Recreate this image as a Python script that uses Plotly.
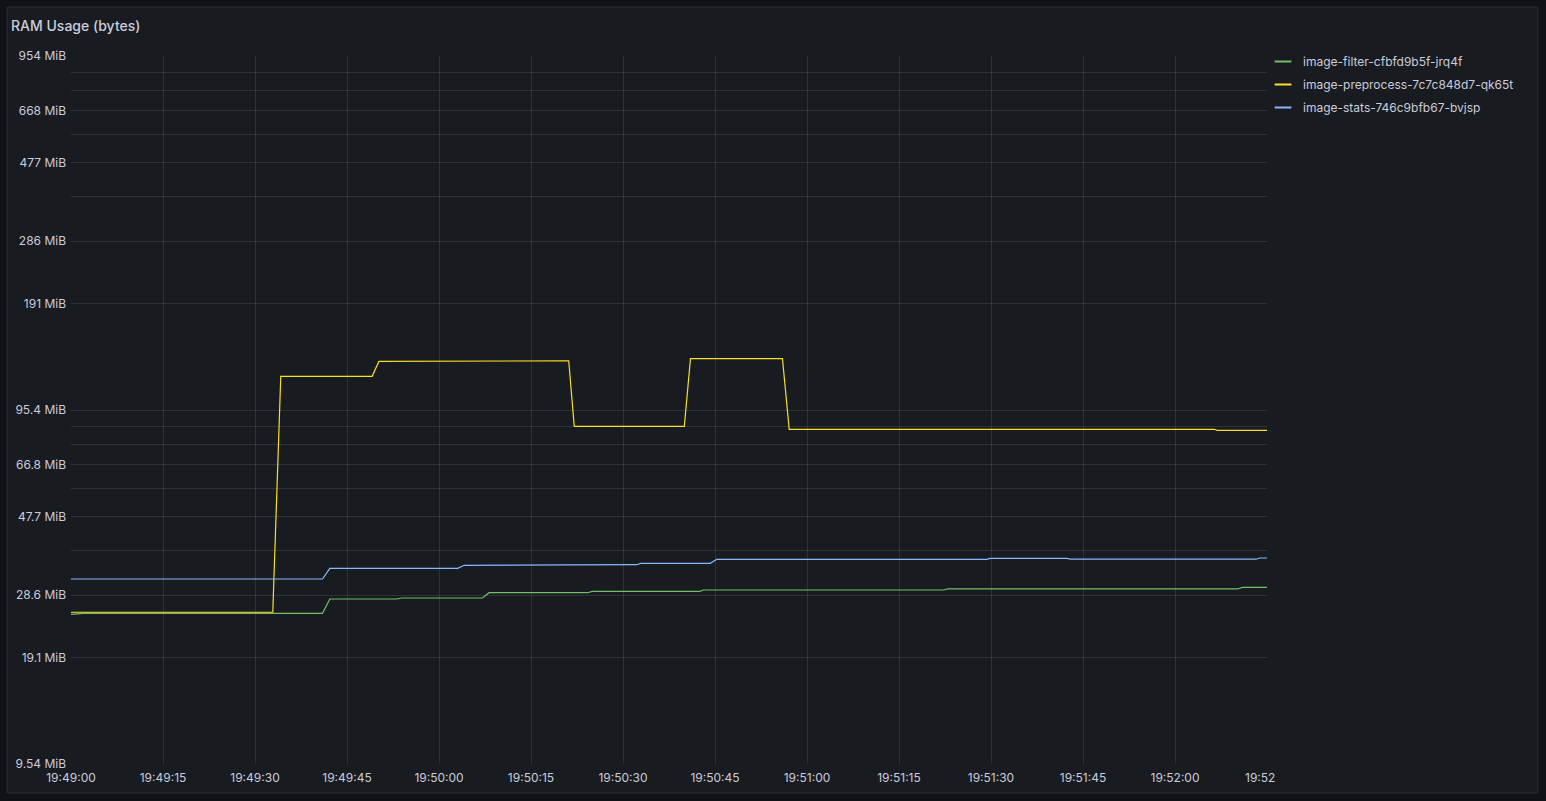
import plotly.graph_objects as go
import pandas as pd

BASE = pd.Timestamp("2024-01-01 19:49:00")

# ---- data (seconds after 19:49:00, bytes) ----
filter_t = [0, 2.0, 41.0, 42.2, 53.1, 53.9, 67.1, 68.15, 84.2, 85.0, 102.55, 103.1, 142.2, 143.0, 190.2, 191.0, 195]
filter_v = [26.48e6, 26.65e6, 26.65e6, 29.25e6, 29.25e6, 29.44e6, 29.44e6, 30.47e6, 30.47e6, 30.75e6,
            30.75e6, 31.01e6, 31.01e6, 31.22e6, 31.22e6, 31.56e6, 31.56e6]

pre_t = [0, 32.9, 34.2, 49.1, 50.2, 64.0, 64.6, 81.15, 82.05, 100.0, 101.0, 116.0, 117.1, 186.35, 186.9, 195]
pre_v = [26.83e6, 26.83e6, 124.5e6, 124.5e6, 137.2e6, 137.2e6, 137.7e6, 137.7e6, 89.9e6, 89.9e6,
         139.6e6, 139.6e6, 88.2e6, 88.2e6, 87.6e6, 87.6e6]

stats_t = [0, 41.0, 42.2, 63.05, 64.1, 78.4, 79.2, 92.2, 92.9, 104.2, 105.3, 149.3, 149.85, 162.35, 163.0, 193.2, 193.85, 195]
stats_v = [33.31e6, 33.31e6, 35.71e6, 35.71e6, 36.42e6, 36.42e6, 36.56e6, 36.56e6, 36.89e6, 36.89e6,
           37.86e6, 37.86e6, 38.11e6, 38.11e6, 37.89e6, 37.89e6, 38.19e6, 38.19e6]

series_names = ["image-filter-cfbfd9b5f-jrq4f", "image-preprocess-7c7c848d7-qk65t", "image-stats-746c9bfb67-bvjsp"]
series_colors = ["#73bf69", "#fade2a", "#8ab8ff"]

y_grid_vals = [1e7, 2e7, 3e7, 4e7, 5e7, 6e7, 7e7, 8e7, 9e7, 1e8, 2e8, 3e8, 4e8, 5e8, 6e8, 7e8, 8e8, 9e8, 1e9]
y_grid_text = ["9.54 MiB", "19.1 MiB", "28.6 MiB", "", "47.7 MiB", "", "66.8 MiB", "", "", "95.4 MiB",
               "191 MiB", "286 MiB", "", "477 MiB", "", "668 MiB", "", "", "954 MiB"]

x_tick_secs = [0, 15, 30, 45, 60, 75, 90, 105, 120, 135, 150, 165, 180, 195]
x_tick_text = ["19:49:00", "19:49:15", "19:49:30", "19:49:45", "19:50:00", "19:50:15", "19:50:30",
               "19:50:45", "19:51:00", "19:51:15", "19:51:30", "19:51:45", "19:52:00",
               "19:52\u00a0\u00a0\u00a0\u00a0"]
x_range_secs = [0, 195]

TITLE = "RAM Usage (bytes)"


def to_time(secs):
    return [BASE + pd.Timedelta(seconds=s) for s in secs]


fig = go.Figure()
for name, color, ts, vs in zip(series_names, series_colors,
                               [filter_t, pre_t, stats_t], [filter_v, pre_v, stats_v]):
    fig.add_trace(go.Scatter(x=to_time(ts), y=vs, mode="lines", name=name,
                             line=dict(color=color, width=1.2), showlegend=False,
                             legendgroup=name, hoverinfo="skip"))
    fig.add_trace(go.Scatter(x=[None], y=[None], mode="markers", name=name, legendgroup=name,
                             marker=dict(symbol="line-ew-open", size=13, color=color,
                                         line=dict(color=color, width=4)),
                             showlegend=True))

# geometry (px)
W, H = 1546, 801
L, R, T, B = 71, 1267, 56, 764
pw, ph = R - L, B - T


def px_x(x):
    return (x - L) / pw


def px_y(y):
    return (B - y) / ph


TEXT = "#ccccdc"
GRID = "rgba(204,204,220,0.13)"

fig.update_layout(
    width=W, height=H,
    margin=dict(l=L, r=W - R, t=T, b=H - B, pad=0),
    paper_bgcolor="#111217",
    plot_bgcolor="#181b1f",
    font=dict(family="Inter, Roboto, sans-serif", size=12, color=TEXT),
    showlegend=True,
    legend=dict(x=px_x(1263), y=px_y(47), xanchor="left", yanchor="top",
                bgcolor="rgba(0,0,0,0)", font=dict(size=12, color=TEXT),
                traceorder="grouped", tracegroupgap=4, itemsizing="constant"),
    shapes=[dict(type="rect", xref="paper", yref="paper",
                 x0=px_x(7), x1=px_x(1538), y0=px_y(793), y1=px_y(7),
                 fillcolor="#181b1f", line=dict(color="#2a2d33", width=1), layer="below")],
    annotations=[dict(text=TITLE, xref="paper", yref="paper", x=px_x(9), y=px_y(25),
                      xanchor="left", yanchor="middle", showarrow=False,
                      font=dict(size=14, color=TEXT, family="Inter, Roboto, sans-serif", weight=500))],
)

fig.update_xaxes(
    type="date",
    range=to_time(x_range_secs),
    tickvals=to_time(x_tick_secs), ticktext=x_tick_text,
    showgrid=True, gridcolor=GRID, gridwidth=1,
    zeroline=False, showline=False, ticks="", tickfont=dict(size=12, color=TEXT),
    ticklabelstandoff=5,
)
fig.update_yaxes(
    type="log",
    range=[7, 9],
    tickvals=y_grid_vals, ticktext=y_grid_text,
    showgrid=True, gridcolor=GRID, gridwidth=1,
    zeroline=False, showline=False, ticks="", tickfont=dict(size=12, color=TEXT),
    ticklabelstandoff=4,
)

fig.write_html("out.html")
